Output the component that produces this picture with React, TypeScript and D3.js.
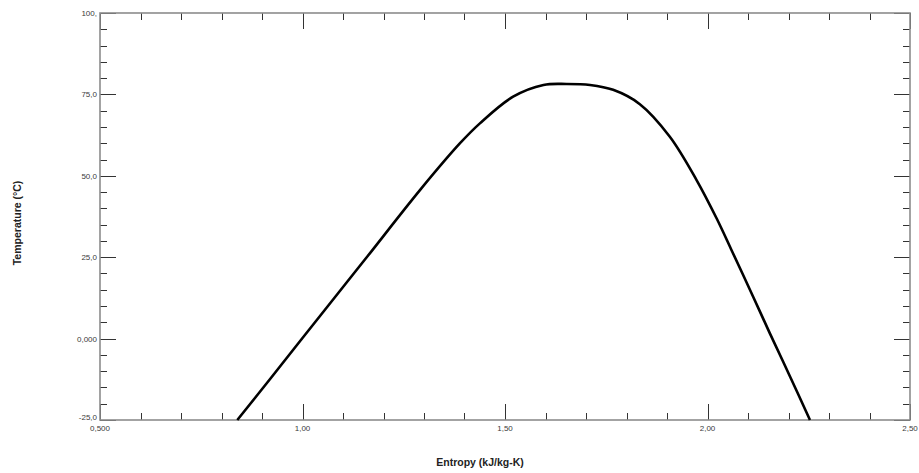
import * as d3 from 'd3';
import React, { useEffect, useRef } from 'react';

// saturation dome
const entropy = [0.839, 0.92, 1.0, 1.08, 1.16, 1.29, 1.389, 1.438, 1.52, 1.595, 1.652, 1.71, 1.767, 1.833, 1.907, 1.973, 2.023, 2.06, 2.113, 2.154, 2.204, 2.253];
const temperature = [-25, -12.4, 0.2, 12.7, 25.2, 45.6, 60.0, 66.1, 74.3, 77.9, 78.2, 77.9, 76.4, 72.0, 62.0, 48.7, 36.8, 27.0, 12.8, 1.6, -11.7, -25];

const xTicks = [0.5, 1.0, 1.5, 2.0, 2.5];
const xTickLabels = ['0,500', '1,00', '1,50', '2,00', '2,50'];
const yTicks = [-25, 0, 25, 50, 75, 100];
const yTickLabels = ['-25,0', '0,000', '25,0', '50,0', '75,0', '100,'];

const xTitle = 'Entropy (kJ/kg-K)';
const yTitle = 'Temperature (\u00B0C)';

const App = () => {
    const ref = useRef<SVGSVGElement>(null);

    useEffect(() => {
        const width = 919;
        const height = 473;
        const left = 100, right = 910, top = 13, bottom = 420;
        const font = 'Arial, "Liberation Sans", sans-serif';

        const svg = d3.select(ref.current);
        svg.selectAll('*').remove();
        svg.attr('width', width).attr('height', height);

        const x = d3.scaleLinear().domain([0.5, 2.5]).range([left, right]);
        const y = d3.scaleLinear().domain([-25, 100]).range([bottom, top]);

        const minorX = d3.range(0.5, 2.5001, 0.1).filter(v => !xTicks.some(t => Math.abs(t - v) < 1e-6));
        const minorY = d3.range(-25, 100.001, 5).filter(v => !yTicks.some(t => Math.abs(t - v) < 1e-6));

        const ticks = svg.append('g').attr('stroke', '#333').attr('stroke-width', 1);

        // bottom + top ticks
        [[bottom, -1], [top, 1]].forEach(([base, dir]) => {
            minorX.forEach(v => {
                ticks.append('line')
                    .attr('x1', Math.round(x(v)) + 0.5).attr('x2', Math.round(x(v)) + 0.5)
                    .attr('y1', base).attr('y2', base + dir * 7);
            });
            xTicks.forEach(v => {
                ticks.append('line')
                    .attr('x1', Math.round(x(v)) + 0.5).attr('x2', Math.round(x(v)) + 0.5)
                    .attr('y1', base).attr('y2', base + dir * 16);
            });
        });

        // left + right ticks
        [[left, 1], [right, -1]].forEach(([base, dir]) => {
            minorY.forEach(v => {
                ticks.append('line')
                    .attr('y1', Math.round(y(v)) + 0.5).attr('y2', Math.round(y(v)) + 0.5)
                    .attr('x1', base).attr('x2', base + dir * 7);
            });
            yTicks.forEach(v => {
                ticks.append('line')
                    .attr('y1', Math.round(y(v)) + 0.5).attr('y2', Math.round(y(v)) + 0.5)
                    .attr('x1', base).attr('x2', base + dir * 16);
            });
        });

        // frame
        svg.append('rect')
            .attr('x', left).attr('y', top)
            .attr('width', right - left).attr('height', bottom - top)
            .attr('fill', 'none')
            .attr('stroke', '#8c8c8c')
            .attr('stroke-width', 1.6);

        // tick labels
        const labels = svg.append('g')
            .attr('font-family', font)
            .attr('font-size', 8)
            .attr('fill', '#3a3a3a');

        xTicks.forEach((v, i) => {
            labels.append('text')
                .attr('x', x(v))
                .attr('y', 431)
                .attr('text-anchor', 'middle')
                .text(xTickLabels[i]);
        });

        yTicks.forEach((v, i) => {
            labels.append('text')
                .attr('x', 97)
                .attr('y', v === -25 ? y(v) : y(v) + 3)
                .attr('text-anchor', 'end')
                .text(yTickLabels[i]);
        });

        // axis titles
        svg.append('text')
            .attr('x', 480)
            .attr('y', 466)
            .attr('text-anchor', 'middle')
            .attr('font-family', font)
            .attr('font-size', 10.5)
            .attr('font-weight', 'bold')
            .attr('fill', '#222')
            .text(xTitle);

        svg.append('text')
            .attr('transform', `translate(21, 223) rotate(-90)`)
            .attr('text-anchor', 'middle')
            .attr('font-family', font)
            .attr('font-size', 10.5)
            .attr('font-weight', 'bold')
            .attr('fill', '#222')
            .text(yTitle);

        // curve
        const pts = entropy.map((s, i) => [s, temperature[i]] as [number, number]);
        const line = d3.line<[number, number]>()
            .x(d => x(d[0]))
            .y(d => y(d[1]))
            .curve(d3.curveCatmullRom.alpha(0.5));

        svg.append('path')
            .datum(pts)
            .attr('d', line)
            .attr('fill', 'none')
            .attr('stroke', '#000')
            .attr('stroke-width', 2.6)
            .attr('stroke-linejoin', 'round');
    }, []);

    return <svg ref={ref} style={{ position: 'absolute', left: 0, top: 0, background: '#fff' }}></svg>;
};

export default App;
